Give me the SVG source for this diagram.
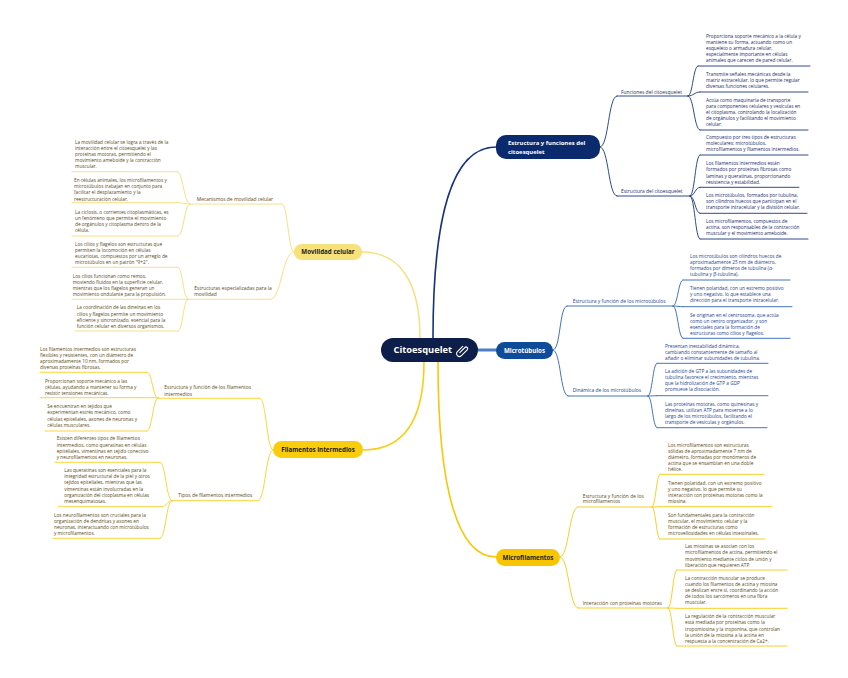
<svg xmlns="http://www.w3.org/2000/svg" width="848" height="678" viewBox="0 0 848 678">
<style>
text{font-family:"Open Sans","Liberation Sans",sans-serif}
.lf{font-size:4.75px}
.sl{font-size:4.95px}
.bn{font-size:6.2px;font-weight:700}
.nv{fill:#1d2d6b}
.mb{fill:#1e3f8f}
.br{fill:#5b4b17}
.c{fill:none;stroke-linecap:round}
.cn{stroke:#18357f;stroke-width:0.9}
.cb{stroke:#2f64b4;stroke-width:0.9}
.cy{stroke:#f8c80e;stroke-width:0.9}
.cp{stroke:#f6dd76;stroke-width:0.9}
.cf{stroke:#f9d028;stroke-width:0.9}
</style>
<rect width="848" height="678" fill="#ffffff"/>
<g id="connectors" class="c">
<path d="M433,338 C433,215 452,147 496,147" stroke="#15347c" stroke-width="1.6" fill="none"/>
<path d="M478,350 L497,350" stroke="#4f7fc4" stroke-width="3" fill="none"/>
<path d="M420,338 C420,282 400,252 362,252" stroke="#f6df7c" stroke-width="1.4" fill="none"/>
<path d="M424,362 C424,425 400,450 363,450" stroke="#f8cf14" stroke-width="1.6" fill="none"/>
<path d="M438,362 C438,490 458,557 496,557" stroke="#f8c70a" stroke-width="1.6" fill="none"/>
<g class="cn">
<path d="M600,147 C609,147 608,96 617,96"/>
<path d="M600,147 C609,147 608,196 617,196"/>
<path d="M688,96 C693,96 693,66 698,66"/>
<path d="M688,96 C694,96 694,92 700,92"/>
<path d="M688,96 C694,96 694,130 700,130"/>
<path d="M690,196 C695,196 695,155 700,155"/>
<path d="M690,196 C695,196 695,187.3 700,187.3"/>
<path d="M690,196 C695,196 695,213.3 700,213.3"/>
<path d="M690,196 C695,196 695,239 700,239"/>
</g>
<g class="cb">
<path d="M553,350 C561,350 559,306 567,306"/>
<path d="M553,350 C561,350 560,396 568,396"/>
<path d="M673,306 C678,306 678,280 683,280"/>
<path d="M673,306 C678,306 678,306.7 683,306.7"/>
<path d="M673,306 C678,306 678,338.3 683,338.3"/>
<path d="M648,396 C652.5,396 652.5,363.3 657,363.3"/>
<path d="M648,396 C652.5,396 652.5,395.7 657,395.7"/>
<path d="M648,396 C652.5,396 652.5,427.7 657,427.7"/>
</g>
<g class="cy">
<path d="M560,557 C569,557 569,507 578,507"/>
<path d="M560,557 C569,557 569,608 578,608"/>
<path d="M652,507 C656,507 656,474.3 660,474.3"/>
<path d="M652,507 C656,507 656,506.7 660,506.7"/>
<path d="M652,507 C656,507 656,539 660,539"/>
<path d="M668,608 C672.5,608 672.5,570 677,570"/>
<path d="M668,608 C672.5,608 672.5,608.3 677,608.3"/>
<path d="M668,608 C672.5,608 672.5,646 677,646"/>
</g>
<g class="cp">
<path d="M294,252 C288,252 288,204 282,204"/>
<path d="M294,252 C282,252 282,299.3 270,299.3"/>
<path d="M190,204 C183.5,204 183.5,171.7 177,171.7"/>
<path d="M190,204 C184,204 184,202.7 178,202.7"/>
<path d="M190,204 C184,204 184,236 178,236"/>
<path d="M188,299.3 C183,299.3 183,267.3 178,267.3"/>
<path d="M188,299.3 C183,299.3 183,331 178,331"/>
</g>
<g class="cf">
<path d="M273,450 C266.5,450 266.5,398.3 260,398.3"/>
<path d="M273,450 C265.5,450 265.5,500.7 258,500.7"/>
<path d="M158,398.3 C152.5,398.3 152.5,372.3 147,372.3"/>
<path d="M158,398.3 C152.5,398.3 152.5,431 147,431"/>
<path d="M172,500.7 C166,500.7 166,462.3 160,462.3"/>
<path d="M172,500.7 C167,500.7 167,506.7 162,506.7"/>
<path d="M172,500.7 C166,500.7 166,538.3 160,538.3"/>
</g>
</g>

<g id="central">
<rect x="381" y="338" width="97" height="24" rx="12" fill="#0d1e4a"/>
<text x="393.5" y="353.4" font-size="9.3" font-weight="700" fill="#ffffff">Citoesquelet</text>
<path d="M459.8,352.6 L464.9,347.5 A1.6,1.6 0 0 1 467.2,349.8 L461.4,355.6 A2.8,2.8 0 0 1 457.4,351.6 L462.7,346.3" fill="none" stroke="#ffffff" stroke-width="1.1" stroke-linecap="round"/>
</g>

<g id="estructura-funciones">
<rect x="496" y="135" width="104" height="24" rx="10" fill="#0b2a6e"/>
<text class="bn" fill="#ffffff" style="font-size:5.95px"><tspan x="508" y="145.4">Estructura y funciones del</tspan><tspan x="508" y="153.8">citoesquelet</tspan></text>
</g>
<g id="funciones">
<text class="sl nv" x="621" y="93.6">Funciones del citoesquelet</text>
<line x1="617" y1="96" x2="688" y2="96" class="c cn"/>
</g>
<g id="fun-1">
<text class="lf nv"><tspan x="706" y="37.6">Proporciona soporte mecánico a la célula y</tspan><tspan x="706" y="43.6">mantiene su forma, actuando como un</tspan><tspan x="706" y="49.6">esqueleto o armadura celular,</tspan><tspan x="706" y="55.6">especialmente importante en células</tspan><tspan x="706" y="61.6">animales que carecen de pared celular.</tspan></text>
<line x1="698" y1="66" x2="810" y2="66" class="c cn"/>
</g>
<g id="fun-2">
<text class="lf nv"><tspan x="706" y="75.6">Transmite señales mecánicas desde la</tspan><tspan x="706" y="81.6">matriz extracelular, lo que permite regular</tspan><tspan x="706" y="87.6">diversas funciones celulares.</tspan></text>
<line x1="700" y1="92" x2="808" y2="92" class="c cn"/>
</g>
<g id="fun-3">
<text class="lf nv"><tspan x="706" y="101.6">Actúa como maquinaria de transporte</tspan><tspan x="706" y="107.6">para componentes celulares y vesículas en</tspan><tspan x="706" y="113.6">el citoplasma, controlando la localización</tspan><tspan x="706" y="119.9">de orgánulos y facilitando el movimiento</tspan><tspan x="706" y="125.9">celular.</tspan></text>
<line x1="700" y1="130" x2="808" y2="130" class="c cn"/>
</g>
<g id="estructura">
<text class="sl nv" x="621" y="193.3">Estructura del citoesquelet</text>
<line x1="617" y1="196" x2="690" y2="196" class="c cn"/>
</g>
<g id="est-1">
<text class="lf nv"><tspan x="706" y="138.9">Compuesto por tres tipos de estructuras</tspan><tspan x="706" y="144.9">moleculares: microtúbulos,</tspan><tspan x="706" y="150.9">microfilamentos y filamentos intermedios.</tspan></text>
<line x1="700" y1="155" x2="808" y2="155" class="c cn"/>
</g>
<g id="est-2">
<text class="lf nv"><tspan x="706" y="165.3">Los filamentos intermedios están</tspan><tspan x="706" y="171.3">formados por proteínas fibrosas como</tspan><tspan x="706" y="177.6">laminas y queratinas, proporcionando</tspan><tspan x="706" y="183.6">resistencia y estabilidad.</tspan></text>
<line x1="700" y1="187.3" x2="799" y2="187.3" class="c cn"/>
</g>
<g id="est-3">
<text class="lf nv"><tspan x="706" y="197.3">Los microtúbulos, formados por tubulina,</tspan><tspan x="706" y="203.3">son cilindros huecos que participan en el</tspan><tspan x="706" y="209.3">transporte intracelular y la división celular.</tspan></text>
<line x1="700" y1="213.3" x2="807" y2="213.3" class="c cn"/>
</g>
<g id="est-4">
<text class="lf nv"><tspan x="706" y="222.9">Los microfilamentos, compuestos de</tspan><tspan x="706" y="228.9">actina, son responsables de la contracción</tspan><tspan x="706" y="234.9">muscular y el movimiento ameboide.</tspan></text>
<line x1="700" y1="239" x2="808" y2="239" class="c cn"/>
</g>

<g id="microtubulos">
<rect x="496" y="342" width="57" height="17" rx="8.5" fill="#0e4c9b"/>
<text class="bn" x="524.5" y="352.7" text-anchor="middle" fill="#ffffff">Microtúbulos</text>
</g>
<g id="mt-estructura">
<text class="sl mb" x="572.7" y="302.6">Estructura y función de los microtúbulos</text>
<line x1="567" y1="306" x2="673" y2="306" class="c cb"/>
</g>
<g id="mt-e1">
<text class="lf mb"><tspan x="690" y="257.6">Los microtúbulos son cilindros huecos de</tspan><tspan x="690" y="263.6">aproximadamente 25 nm de diámetro,</tspan><tspan x="690" y="269.6">formados por dímeros de tubulina (α-</tspan><tspan x="690" y="275.9">tubulina y β-tubulina).</tspan></text>
<line x1="683" y1="280" x2="790" y2="280" class="c cb"/>
</g>
<g id="mt-e2">
<text class="lf mb"><tspan x="690" y="289.9">Tienen polaridad, con un extremo positivo</tspan><tspan x="690" y="295.9">y uno negativo, lo que establece una</tspan><tspan x="690" y="301.9">dirección para el transporte intracelular.</tspan></text>
<line x1="683" y1="306.7" x2="792" y2="306.7" class="c cb"/>
</g>
<g id="mt-e3">
<text class="lf mb"><tspan x="690" y="316.6">Se originan en el centrosoma, que actúa</tspan><tspan x="690" y="322.6">como un centro organizador, y son</tspan><tspan x="690" y="328.6">esenciales para la formación de</tspan><tspan x="690" y="334.9">estructuras como cilios y flagelos.</tspan></text>
<line x1="683" y1="338.3" x2="790" y2="338.3" class="c cb"/>
</g>
<g id="mt-dinamica">
<text class="sl mb" x="572.7" y="392.3">Dinámica de los microtúbulos</text>
<line x1="568" y1="396" x2="648" y2="396" class="c cb"/>
</g>
<g id="mt-d1">
<text class="lf mb"><tspan x="665" y="347.6">Presentan inestabilidad dinámica,</tspan><tspan x="665" y="353.6">cambiando constantemente de tamaño al</tspan><tspan x="665" y="359.6">añadir o eliminar subunidades de tubulina.</tspan></text>
<line x1="657" y1="363.3" x2="768" y2="363.3" class="c cb"/>
</g>
<g id="mt-d2">
<text class="lf mb"><tspan x="665" y="372.6">La adición de GTP a las subunidades de</tspan><tspan x="665" y="379.3">tubulina favorece el crecimiento, mientras</tspan><tspan x="665" y="385.3">que la hidrolización de GTP a GDP</tspan><tspan x="665" y="391.3">promueve la disociación.</tspan></text>
<line x1="657" y1="395.7" x2="768" y2="395.7" class="c cb"/>
</g>
<g id="mt-d3">
<text class="lf mb"><tspan x="665" y="405.6">Las proteínas motoras, como quinesinas y</tspan><tspan x="665" y="411.6">dineínas, utilizan ATP para moverse a lo</tspan><tspan x="665" y="417.6">largo de los microtúbulos, facilitando el</tspan><tspan x="665" y="423.6">transporte de vesículas y orgánulos.</tspan></text>
<line x1="657" y1="427.7" x2="767" y2="427.7" class="c cb"/>
</g>

<g id="microfilamentos">
<rect x="496" y="549" width="64" height="17" rx="8.5" fill="#f8c600"/>
<text class="bn" x="528" y="559.7" text-anchor="middle" fill="#1a1a1a">Microfilamentos</text>
</g>
<g id="mf-estructura">
<text class="sl br"><tspan x="582.7" y="497.6">Estructura y función de los</tspan><tspan x="582.7" y="503.3">microfilamentos</tspan></text>
<line x1="578" y1="507" x2="652" y2="507" class="c cy"/>
</g>
<g id="mf-e1">
<text class="lf br"><tspan x="668" y="446.6">Los microfilamentos son estructuras</tspan><tspan x="668" y="452.6">sólidas de aproximadamente 7 nm de</tspan><tspan x="668" y="458.6">diámetro, formadas por monómeros de</tspan><tspan x="668" y="464.9">actina que se ensamblan en una doble</tspan><tspan x="668" y="470.9">hélice.</tspan></text>
<line x1="660" y1="474.3" x2="764" y2="474.3" class="c cy"/>
</g>
<g id="mf-e2">
<text class="lf br"><tspan x="668" y="484.9">Tienen polaridad, con un extremo positivo</tspan><tspan x="668" y="490.9">y uno negativo, lo que permite su</tspan><tspan x="668" y="497.3">interacción con proteínas motoras como la</tspan><tspan x="668" y="503.3">miosina.</tspan></text>
<line x1="660" y1="506.7" x2="772" y2="506.7" class="c cy"/>
</g>
<g id="mf-e3">
<text class="lf br"><tspan x="668" y="516.6">Son fundamentales para la contracción</tspan><tspan x="668" y="522.6">muscular, el movimiento celular y la</tspan><tspan x="668" y="528.9">formación de estructuras como</tspan><tspan x="668" y="534.9">microvellosidades en células intestinales.</tspan></text>
<line x1="660" y1="539" x2="765" y2="539" class="c cy"/>
</g>
<g id="mf-interaccion">
<text class="sl br" x="582.7" y="604.6">Interacción con proteínas motoras</text>
<line x1="578" y1="608" x2="668" y2="608" class="c cy"/>
</g>
<g id="mf-i1">
<text class="lf br"><tspan x="685" y="548.3">Las miosinas se asocian con los</tspan><tspan x="685" y="554.3">microfilamentos de actina, permitiendo el</tspan><tspan x="685" y="560.6">movimiento mediante ciclos de unión y</tspan><tspan x="685" y="566.6">liberación que requieren ATP.</tspan></text>
<line x1="677" y1="570" x2="787" y2="570" class="c cy"/>
</g>
<g id="mf-i2">
<text class="lf br"><tspan x="685" y="579.9">La contracción muscular se produce</tspan><tspan x="685" y="585.9">cuando los filamentos de actina y miosina</tspan><tspan x="685" y="592.3">se deslizan entre sí, coordinando la acción</tspan><tspan x="685" y="598.3">de todos los sarcómeros en una fibra</tspan><tspan x="685" y="604.3">muscular.</tspan></text>
<line x1="677" y1="608.3" x2="787" y2="608.3" class="c cy"/>
</g>
<g id="mf-i3">
<text class="lf br"><tspan x="685" y="618.3">La regulación de la contracción muscular</tspan><tspan x="685" y="624.3">está mediada por proteínas como la</tspan><tspan x="685" y="630.6">tropomiosina y la troponina, que controlan</tspan><tspan x="685" y="636.6">la unión de la miosina a la actina en</tspan><tspan x="685" y="642.6">respuesta a la concentración de Ca2+.</tspan></text>
<line x1="677" y1="646" x2="787" y2="646" class="c cy"/>
</g>

<g id="movilidad">
<rect x="294" y="244" width="68" height="16" rx="8" fill="#f6e17b"/>
<text class="bn" x="328" y="254.2" text-anchor="middle" fill="#1a1a1a">Movilidad celular</text>
</g>
<g id="mov-mecanismos">
<text class="sl br" x="196.7" y="200.6">Mecanismos de movilidad celular</text>
<line x1="190" y1="204" x2="282" y2="204" class="c cp"/>
</g>
<g id="mov-m1">
<text class="lf br"><tspan x="75" y="143.9">La movilidad celular se logra a través de la</tspan><tspan x="75" y="149.9">interacción entre el citoesquelet y las</tspan><tspan x="75" y="155.9">proteínas motoras, permitiendo el</tspan><tspan x="75" y="162.3">movimiento ameboide y la contracción</tspan><tspan x="75" y="168.3">muscular.</tspan></text>
<line x1="72" y1="171.7" x2="177" y2="171.7" class="c cp"/>
</g>
<g id="mov-m2">
<text class="lf br"><tspan x="74" y="182.3">En células animales, los microfilamentos y</tspan><tspan x="74" y="188.3">microtúbulos trabajan en conjunto para</tspan><tspan x="74" y="194.3">facilitar el desplazamiento y la</tspan><tspan x="74" y="200.6">reestructuración celular.</tspan></text>
<line x1="72" y1="202.7" x2="178" y2="202.7" class="c cp"/>
</g>
<g id="mov-m3">
<text class="lf br"><tspan x="75" y="213.9">La ciclosis, o corrientes citoplasmáticas, es</tspan><tspan x="75" y="219.9">un fenómeno que permite el movimiento</tspan><tspan x="75" y="225.9">de orgánulos y citoplasma dentro de la</tspan><tspan x="75" y="232.3">célula.</tspan></text>
<line x1="72" y1="236" x2="178" y2="236" class="c cp"/>
</g>
<g id="mov-estructuras">
<text class="sl br"><tspan x="194.3" y="289.9">Estructuras especializadas para la</tspan><tspan x="194.3" y="295.9">movilidad</tspan></text>
<line x1="188" y1="299.3" x2="270" y2="299.3" class="c cp"/>
</g>
<g id="mov-e1">
<text class="lf br"><tspan x="75" y="245.9">Los cilios y flagelos son estructuras que</tspan><tspan x="75" y="251.9">permiten la locomoción en células</tspan><tspan x="75" y="257.9">eucariotas, compuestos por un arreglo de</tspan><tspan x="75" y="264.3">microtúbulos en un patrón "9+2".</tspan></text>
<line x1="72" y1="267.3" x2="178" y2="267.3" class="c cp"/>
</g>
<g id="mov-e2">
<text class="lf br"><tspan x="72.7" y="277.6">Los cilios funcionan como remos,</tspan><tspan x="72.7" y="283.6">moviendo fluidos en la superficie celular,</tspan><tspan x="72.7" y="289.6">mientras que los flagelos generan un</tspan><tspan x="72.7" y="295.6">movimiento ondulante para la propulsión.</tspan></text>
<line x1="72" y1="299.3" x2="188" y2="299.3" class="c cp"/>
</g>
<g id="mov-e3">
<text class="lf br"><tspan x="76.7" y="309.3">La coordinación de las dineínas en los</tspan><tspan x="76.7" y="315.6">cilios y flagelos permite un movimiento</tspan><tspan x="76.7" y="321.6">eficiente y sincronizado, esencial para la</tspan><tspan x="76.7" y="327.9">función celular en diversos organismos.</tspan></text>
<line x1="75" y1="331" x2="178" y2="331" class="c cp"/>
</g>

<g id="filamentos">
<rect x="273" y="441" width="90" height="17" rx="8.5" fill="#f9cd0b"/>
<text class="bn" x="318" y="451.8" text-anchor="middle" fill="#1a1a1a">Filamentos intermedios</text>
</g>
<g id="fi-estructura">
<text class="sl br"><tspan x="164.3" y="388.9">Estructura y función de los filamentos</tspan><tspan x="164.3" y="395.6">intermedios</tspan></text>
<line x1="158" y1="398.3" x2="260" y2="398.3" class="c cf"/>
</g>
<g id="fi-e1">
<text class="lf br"><tspan x="40" y="350.6">Los filamentos intermedios son estructuras</tspan><tspan x="40" y="356.6">flexibles y resistentes, con un diámetro de</tspan><tspan x="40" y="363.3">aproximadamente 10 nm, formados por</tspan><tspan x="40" y="369.3">diversas proteínas fibrosas.</tspan></text>
<line x1="40" y1="372.3" x2="147" y2="372.3" class="c cf"/>
</g>
<g id="fi-e2">
<text class="lf br"><tspan x="45" y="382.6">Proporcionan soporte mecánico a las</tspan><tspan x="45" y="388.6">células, ayudando a mantener su forma y</tspan><tspan x="45" y="394.9">resistir tensiones mecánicas.</tspan></text>
<line x1="40" y1="397.7" x2="158" y2="397.7" class="c cf"/>
</g>
<g id="fi-e3">
<text class="lf br"><tspan x="47.3" y="408.3">Se encuentran en tejidos que</tspan><tspan x="47.3" y="414.3">experimentan estrés mecánico, como</tspan><tspan x="47.3" y="420.6">células epiteliales, axones de neuronas y</tspan><tspan x="47.3" y="426.6">células musculares.</tspan></text>
<line x1="45" y1="431" x2="147" y2="431" class="c cf"/>
</g>
<g id="fi-tipos">
<text class="sl br" x="178.3" y="497.3">Tipos de filamentos intermedios</text>
<line x1="172" y1="500.7" x2="258" y2="500.7" class="c cf"/>
</g>
<g id="fi-t1">
<text class="lf br"><tspan x="56.7" y="439.9">Existen diferentes tipos de filamentos</tspan><tspan x="56.7" y="446.6">intermedios, como queratinas en células</tspan><tspan x="56.7" y="452.6">epiteliales, vimentinas en tejido conectivo</tspan><tspan x="56.7" y="458.9">y neurofilamentos en neuronas.</tspan></text>
<line x1="55" y1="462.3" x2="160" y2="462.3" class="c cf"/>
</g>
<g id="fi-t2">
<text class="lf br"><tspan x="64.3" y="472.3">Las queratinas son esenciales para la</tspan><tspan x="64.3" y="478.3">integridad estructural de la piel y otros</tspan><tspan x="64.3" y="484.3">tejidos epiteliales, mientras que las</tspan><tspan x="64.3" y="490.6">vimentinas están involucradas en la</tspan><tspan x="64.3" y="496.6">organización del citoplasma en células</tspan><tspan x="64.3" y="502.6">mesenquimatosas.</tspan></text>
<line x1="58" y1="506.7" x2="162" y2="506.7" class="c cf"/>
</g>
<g id="fi-t3">
<text class="lf br"><tspan x="54" y="516.6">Los neurofilamentos son cruciales para la</tspan><tspan x="54" y="522.6">organización de dendritas y axones en</tspan><tspan x="54" y="528.9">neuronas, interactuando con microtúbulos</tspan><tspan x="54" y="534.9">y microfilamentos.</tspan></text>
<line x1="53" y1="538.3" x2="160" y2="538.3" class="c cf"/>
</g>
</svg>
